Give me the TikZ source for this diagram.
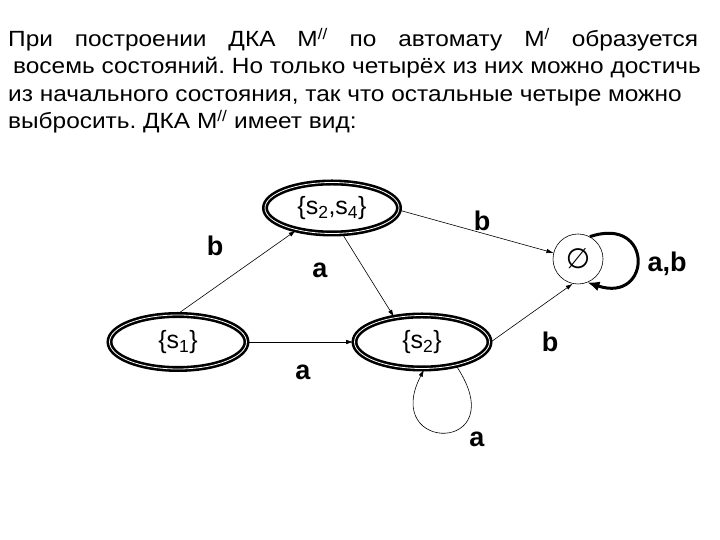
\documentclass[tikz,border=0pt]{standalone}
\usepackage{fontspec}
\setmainfont{Liberation Sans}
\newfontfamily\widefont[FakeStretch=1.11]{Liberation Sans}
\newfontfamily\symfont{DejaVu Sans}
\usetikzlibrary{shapes.geometric, arrows.meta, positioning}
\frenchspacing

\begin{document}
\begin{tikzpicture}[x=1pt, y=1pt,
    txt/.style={anchor=base west, inner sep=0pt, font=\widefont\fontsize{22}{26}\selectfont},
    state/.style={ellipse, draw=black, line width=2.6pt, double=white, double distance=0.8pt,
      minimum width=134pt, minimum height=51pt, inner sep=0pt, font=\fontsize{25}{29}\selectfont},
    lbl/.style={font=\fontsize{27}{31}\selectfont\bfseries},
    edge/.style={-{Latex[length=7pt,width=4.5pt]}, line width=0.6pt}
  ]
  \useasboundingbox (0,0) rectangle (720,540);

  % text above
  \node[txt] (l1) at (8,493) {\makebox[690pt][s]{При построении ДКА M\textsuperscript{//} по автомату M\textsuperscript{/} образуется}};
  \node[txt] (l2) at (13,466) {восемь состояний. Но только четырёх из них можно достичь};
  \node[txt] (l3) at (8,438) {из начального состояния, так что остальные четыре можно};
  \node[txt] (l4) at (8,411) {выбросить. ДКА M\textsuperscript{//} имеет вид:};

  % states
  \node[state] (s24) at (332,332) {\{s\textsubscript{2},s\textsubscript{4}\}};
  \node[state, minimum width=137pt, minimum height=54pt] (s1) at (178,198) {\{s\textsubscript{1}\}};
  \node[state, minimum width=135pt, minimum height=53pt] (s2) at (422,198) {\{s\textsubscript{2}\}};
  \node[circle, draw, line width=0.6pt, minimum size=50pt, inner sep=0pt,
    font=\symfont\fontsize{28}{32}\selectfont] (e) at (578,281) {∅};

  % transitions
  \draw[edge] (s1.north) -- (s24.212);
  \draw[edge] (s24.-68) -- (s2.138);
  \draw[edge] (s24.-2) -- (e.166);
  \draw[edge] (s1.east) -- (s2.west);
  \draw[edge] (s2.east) -- (e.258);
  \draw[edge] (s2.-35) .. controls (515,86) and (380,86) .. (s2.-86);
  \draw[-{Latex[length=12pt,width=10pt]}, line width=3pt] (e.62) .. controls (654,325) and (652,236) .. (e.-68);

  \node[lbl] (b1) at (215,294) {b};
  \node[lbl] (a1) at (320,270) {a};
  \node[lbl] (b2) at (482,319) {b};
  \node[lbl] (a2) at (303,168) {a};
  \node[lbl] (b3) at (550,198) {b};
  \node[lbl] (ab) at (667,276) {a,b};
  \node[lbl] (a3) at (477,101) {a};
\end{tikzpicture}
\end{document}
